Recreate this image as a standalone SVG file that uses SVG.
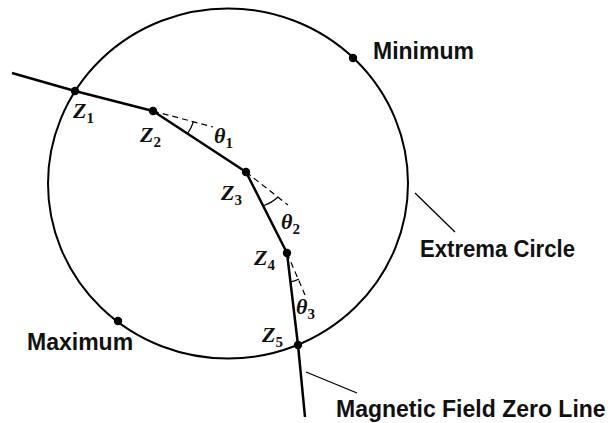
<svg xmlns="http://www.w3.org/2000/svg" width="615" height="423" viewBox="0 0 615 423">
<style>
.lbl{font-family:"Liberation Sans",Arial,sans-serif;font-weight:bold;font-size:23px;fill:#111}
.m{font-family:"Liberation Serif","DejaVu Serif",serif;font-style:italic;font-weight:bold;font-size:22px;fill:#111}
.s{font-family:"Liberation Serif","DejaVu Serif",serif;font-weight:bold;font-size:15px;fill:#111}
.dot{fill:#000}
.main{fill:none;stroke:#000;stroke-width:2.5;stroke-linejoin:round}
.dash{fill:none;stroke:#000;stroke-width:1.2;stroke-dasharray:6 4}
.arc{fill:none;stroke:#000;stroke-width:1.2}
.lead{fill:none;stroke:#000;stroke-width:1.3}
</style>
<rect width="615" height="423" fill="#fff"/>
<g id="extrema-circle">
<ellipse cx="228" cy="183.5" rx="180" ry="175" fill="none" stroke="#000" stroke-width="2"/>
<line class="lead" x1="415" y1="193" x2="455" y2="232"/>
<text class="lbl" x="420" y="257" textLength="155" lengthAdjust="spacingAndGlyphs">Extrema Circle</text>
</g>
<g id="connectors">
<polyline class="main" points="12,73 75,91 153,111 246,172 287,253 298,345 305,417"/>
<line class="dash" x1="153" y1="111" x2="213" y2="127"/>
<line class="dash" x1="246" y1="172" x2="288" y2="205"/>
<line class="dash" x1="287" y1="253" x2="305" y2="295"/>
<path class="arc" d="M193.5,121.5 A41,41 0 0 1 187.5,133.5"/>
<path class="arc" d="M278,197 A39,39 0 0 1 264,205.5"/>
<path class="arc" d="M299,279 A29,29 0 0 1 290,282"/>
<line class="lead" x1="306" y1="372" x2="357" y2="393"/>
</g>
<g id="z1"><circle class="dot" cx="75" cy="91" r="4.2"/><text x="73" y="118"><tspan class="m">Z</tspan><tspan class="s" dy="5">1</tspan></text></g>
<g id="z2"><circle class="dot" cx="153" cy="111" r="4.2"/><text x="140" y="142"><tspan class="m">Z</tspan><tspan class="s" dy="5">2</tspan></text></g>
<g id="theta1"><text x="214" y="143"><tspan class="m">θ</tspan><tspan class="s" dy="5">1</tspan></text></g>
<g id="z3"><circle class="dot" cx="246" cy="172" r="4.2"/><text x="221" y="200"><tspan class="m">Z</tspan><tspan class="s" dy="5">3</tspan></text></g>
<g id="theta2"><text x="281" y="229"><tspan class="m">θ</tspan><tspan class="s" dy="5">2</tspan></text></g>
<g id="z4"><circle class="dot" cx="287" cy="253" r="4.2"/><text x="254" y="265"><tspan class="m">Z</tspan><tspan class="s" dy="5">4</tspan></text></g>
<g id="theta3"><text x="296" y="314"><tspan class="m">θ</tspan><tspan class="s" dy="5">3</tspan></text></g>
<g id="z5"><circle class="dot" cx="298" cy="345" r="4.2"/><text x="262" y="342"><tspan class="m">Z</tspan><tspan class="s" dy="5">5</tspan></text></g>
<g id="minimum"><circle class="dot" cx="353" cy="58" r="4.2"/><text class="lbl" x="373" y="59">Minimum</text></g>
<g id="maximum"><circle class="dot" cx="118" cy="321" r="4.2"/><text class="lbl" x="27" y="350">Maximum</text></g>
<g id="zero-line-label"><text class="lbl" x="336" y="417">Magnetic Field Zero Line</text></g>
</svg>
